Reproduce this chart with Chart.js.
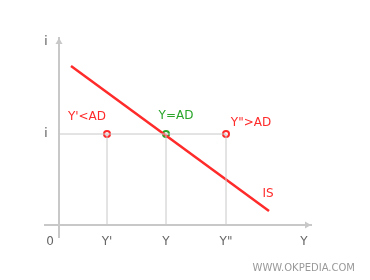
<!DOCTYPE html>
<html>
<head>
<meta charset="utf-8">
<script src="https://cdn.jsdelivr.net/npm/chart.js@4/dist/chart.umd.min.js"></script>
<style>
  body { margin: 0; background: #fff; }
</style>
</head>
<body>
<canvas id="chartCanvas" width="370" height="280"></canvas>
<script>
// Données
const xTickValues = [-9, 48, 107, 167, 245];
const xTickLabels = ['0', "Y'", 'Y', 'Y"', 'Y'];
const yTickValues = [91, 183];
const yTickLabels = ['i', 'i'];

const equilibreX = [48, 107, 167];
const niveauI = 91;
const pointLabels = ["Y'<AD", 'Y=AD', 'Y">AD'];

const isX = [12, 210];
const isY = [159, 14];
const isLabel = 'IS';

const rouge = '#ff2a2a';
const vert = '#2aa52a';
const gris = '#c8c8c8';
const police = 'DejaVu Sans';

const pointColors = [rouge, vert, rouge];

// Lignes de repère (horizontale + verticales)
const guides = [{
    data: [{ x: 0, y: niveauI }, { x: equilibreX[equilibreX.length - 1], y: niveauI }]
}].concat(equilibreX.map(x => ({
    data: [{ x: x, y: 0 }, { x: x, y: niveauI }]
})));

const datasets = guides.map(g => ({
    data: g.data,
    showLine: true,
    borderColor: gris,
    borderWidth: 1,
    pointRadius: 0
}));

datasets.push({
    data: isX.map((x, i) => ({ x: x, y: isY[i] })),
    showLine: true,
    borderColor: rouge,
    borderWidth: 2.5,
    pointRadius: 0
});

datasets.push({
    data: equilibreX.map(x => ({ x: x, y: niveauI })),
    showLine: false,
    pointRadius: 3,
    pointBorderWidth: 2,
    pointBackgroundColor: '#fff',
    pointBorderColor: pointColors
});

// Textes, flèches des axes et filigrane
const decorPlugin = {
    id: 'decor',
    afterDraw(chart) {
        const ctx = chart.ctx;
        const xs = chart.scales.x;
        const ys = chart.scales.y;
        const area = chart.chartArea;
        const x0 = xs.getPixelForValue(0);
        const y0 = ys.getPixelForValue(0);

        ctx.save();
        ctx.fillStyle = gris;
        ctx.beginPath();
        ctx.moveTo(x0, area.top);
        ctx.lineTo(x0 - 3.5, area.top + 6);
        ctx.lineTo(x0 + 3.5, area.top + 6);
        ctx.closePath();
        ctx.fill();
        ctx.beginPath();
        ctx.moveTo(area.right, y0);
        ctx.lineTo(area.right - 6, y0 - 3.5);
        ctx.lineTo(area.right - 6, y0 + 3.5);
        ctx.closePath();
        ctx.fill();

        ctx.font = '12px "' + police + '"';
        ctx.textAlign = 'center';
        ctx.textBaseline = 'middle';
        const offsets = [[-20, 17], [10, 18], [25, 11]];
        equilibreX.forEach((x, i) => {
            ctx.fillStyle = pointColors[i];
            ctx.fillText(pointLabels[i],
                xs.getPixelForValue(x) + offsets[i][0],
                ys.getPixelForValue(niveauI) - offsets[i][1]);
        });
        ctx.fillStyle = rouge;
        ctx.fillText(isLabel, xs.getPixelForValue(isX[1]) - 1, ys.getPixelForValue(isY[1]) - 17);

        ctx.font = '10px "' + police + '"';
        ctx.fillStyle = '#999';
        ctx.textAlign = 'right';
        ctx.fillText('WWW.OKPEDIA.COM', chart.width - 15, 268);
        ctx.restore();
    }
};

const chart = new Chart(document.getElementById('chartCanvas').getContext('2d'), {
    type: 'scatter',
    data: { datasets: datasets },
    plugins: [decorPlugin],
    options: {
        responsive: false,
        animation: false,
        layout: { padding: { left: 45, right: 59, top: 38, bottom: 43 } },
        plugins: {
            legend: { display: false },
            tooltip: { enabled: false }
        },
        scales: {
            x: {
                type: 'linear',
                min: -14,
                max: 252,
                position: { y: 0 },
                grid: { display: false, drawTicks: false },
                border: { color: gris, width: 2 },
                afterBuildTicks: s => { s.ticks = xTickValues.map(v => ({ value: v })); },
                ticks: {
                    padding: 10,
                    color: '#666',
                    autoSkip: false,
                    maxRotation: 0,
                    font: { family: police, size: 12 },
                    callback: (v, i) => xTickLabels[i]
                }
            },
            y: {
                type: 'linear',
                min: -12,
                max: 187,
                position: { x: 0 },
                grid: { display: false, drawTicks: false },
                border: { color: gris, width: 2 },
                afterBuildTicks: s => { s.ticks = yTickValues.map(v => ({ value: v })); },
                ticks: {
                    color: '#555',
                    autoSkip: false,
                    font: { family: police, size: 12 },
                    // axe positionné par valeur : pas de padding, on décale avec des espaces
                    callback: (v, i) => yTickLabels[i] + '   '
                }
            }
        }
    }
});
</script>
</body>
</html>
